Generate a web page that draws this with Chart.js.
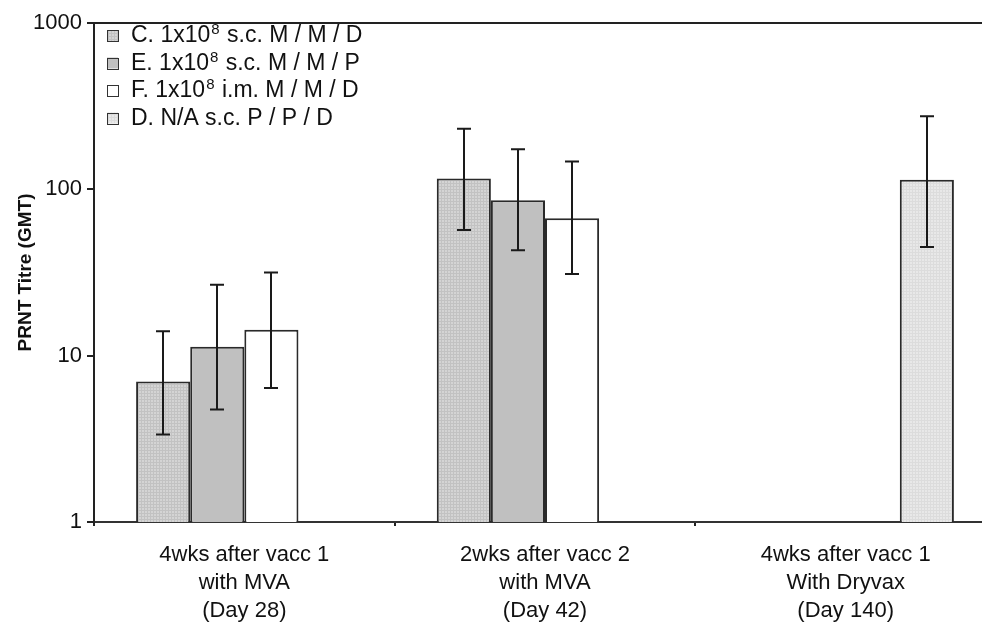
<!DOCTYPE html>
<html>
<head>
<meta charset="utf-8">
<script src="https://cdn.jsdelivr.net/npm/chart.js@4/dist/chart.umd.min.js"></script>
<style>
  html, body { margin: 0; padding: 0; background: #fff; overflow: hidden; }
  #wrap { width: 1000px; height: 628px; position: relative; }
</style>
</head>
<body>
<div id="wrap"><canvas id="titreChart"></canvas></div>
<script>
// categories (multi-line x labels)
const categories = [
    ['4wks after vacc 1', 'with MVA', '(Day 28)'],
    ['2wks after vacc 2', 'with MVA', '(Day 42)'],
    ['4wks after vacc 1', 'With Dryvax', '(Day 140)']
];

// series names ("⁸" is drawn as a superscript)
const seriesNames = [
    'C. 1x10⁸ s.c. M / M / D',
    'E. 1x10⁸ s.c. M / M / P',
    'F. 1x10⁸ i.m. M / M / D',
    'D. N/A s.c. P / P / D'
];

// GMT values
const valuesC = [7.0, 116, null];
const valuesE = [11.3, 86, null];
const valuesF = [14.3, 67, null];
const valuesD = [null, null, 114];

// error bar lower / upper limits
const lowC = [3.36, 57, null];
const highC = [14.0, 231, null];
const lowE = [4.75, 43, null];
const highE = [26.7, 174, null];
const lowF = [6.4, 31, null];
const highF = [31.6, 147, null];
const lowD = [null, null, 45];
const highD = [null, null, 275];

const yTicks = [1, 10, 100, 1000];

function makePattern(base, line) {
    const c = document.createElement('canvas');
    c.width = 3;
    c.height = 3;
    const g = c.getContext('2d');
    g.fillStyle = base;
    g.fillRect(0, 0, 3, 3);
    g.fillStyle = line;
    g.fillRect(0, 0, 3, 1);
    g.fillRect(0, 0, 1, 3);
    return g.createPattern(c, 'repeat');
}

const ctx = document.getElementById('titreChart').getContext('2d');
const fillC = makePattern('#d4d4d4', '#c2c2c2');
const fillD = makePattern('#e8e8e8', '#dcdcdc');
const fills = [fillC, '#c0c0c0', '#ffffff', fillD];
const lows = [lowC, lowE, lowF, lowD];
const highs = [highC, highE, highF, highD];

const errorBars = {
    id: 'errorBars',
    afterDatasetsDraw(chart) {
        const c = chart.ctx;
        const y = chart.scales.y;
        c.save();
        c.strokeStyle = '#1a1a1a';
        c.lineWidth = 2;
        chart.data.datasets.forEach((ds, i) => {
            const meta = chart.getDatasetMeta(i);
            meta.data.forEach((bar, j) => {
                if (lows[i][j] == null) return;
                const x = Math.round(bar.x);
                const y1 = y.getPixelForValue(lows[i][j]);
                const y2 = y.getPixelForValue(highs[i][j]);
                c.beginPath();
                c.moveTo(x, y1);
                c.lineTo(x, y2);
                c.moveTo(x - 7, y1);
                c.lineTo(x + 7, y1);
                c.moveTo(x - 7, y2);
                c.lineTo(x + 7, y2);
                c.stroke();
            });
        });
        c.restore();
    }
};

const frameAndLegend = {
    id: 'frameAndLegend',
    afterDraw(chart) {
        const c = chart.ctx;
        const a = chart.chartArea;
        c.save();
        // top frame line
        c.strokeStyle = '#222';
        c.lineWidth = 2;
        c.beginPath();
        c.moveTo(a.left, a.top);
        c.lineTo(a.right, a.top);
        c.stroke();

        // legend inside plot
        const font = '23px "Liberation Sans", Arial, sans-serif';
        const supFont = '15px "Liberation Sans", Arial, sans-serif';
        c.textBaseline = 'middle';
        c.textAlign = 'left';
        seriesNames.forEach((name, i) => {
            const cy = a.top + 12 + i * 27.5;
            const bx = a.left + 13;
            c.fillStyle = fills[i];
            c.fillRect(bx, cy - 5, 11, 11);
            c.strokeStyle = '#333';
            c.lineWidth = 1;
            c.strokeRect(bx + 0.5, Math.round(cy - 5) + 0.5, 11, 11);
            c.fillStyle = '#111';
            let tx = a.left + 37;
            const parts = name.split('⁸');
            parts.forEach((p, k) => {
                c.font = font;
                c.fillText(p, tx, cy + 1);
                tx += c.measureText(p).width;
                if (k < parts.length - 1) {
                    c.font = supFont;
                    c.fillText('8', tx + 1, cy - 5);
                    tx += c.measureText('8').width + 2;
                }
            });
        });
        c.restore();
    }
};

new Chart(ctx, {
    type: 'bar',
    data: {
        labels: categories,
        datasets: [valuesC, valuesE, valuesF, valuesD].map((vals, i) => ({
            label: seriesNames[i],
            data: vals,
            backgroundColor: fills[i],
            borderColor: '#2a2a2a',
            borderWidth: 2,
            borderSkipped: 'bottom',
            barPercentage: 1,
            categoryPercentage: 0.72
        }))
    },
    options: {
        responsive: true,
        maintainAspectRatio: false,
        animation: false,
        layout: { padding: { top: 23, right: 4, left: 0, bottom: 0 } },
        plugins: {
            legend: { display: false },
            tooltip: { enabled: false }
        },
        scales: {
            x: {
                grid: {
                    offset: true,
                    drawOnChartArea: false,
                    tickLength: 4,
                    color: '#222',
                    lineWidth: 2
                },
                border: { color: '#333', width: 2 },
                ticks: {
                    color: '#111',
                    padding: 15,
                    maxRotation: 0,
                    font: { family: '"Liberation Sans", Arial, sans-serif', size: 22, lineHeight: 1.27 }
                },
                afterFit(scale) { scale.height = 106; }
            },
            y: {
                type: 'logarithmic',
                min: 1,
                max: 1000,
                afterBuildTicks(scale) {
                    scale.ticks = yTicks.map(v => ({ value: v }));
                },
                grid: {
                    drawOnChartArea: false,
                    tickLength: 7,
                    color: '#222',
                    lineWidth: 2
                },
                border: { color: '#222', width: 2 },
                ticks: {
                    color: '#111',
                    padding: 5,
                    font: { family: '"Liberation Sans", Arial, sans-serif', size: 22 },
                    callback: function (value) {
                        return yTicks.includes(value) ? String(value) : '';
                    }
                },
                title: {
                    display: true,
                    text: 'PRNT Titre (GMT)',
                    color: '#111',
                    padding: { top: 14, bottom: 0 },
                    font: { family: '"Liberation Sans", Arial, sans-serif', size: 19, weight: 'bold' }
                },
                afterFit(scale) { scale.width = 94; }
            }
        }
    },
    plugins: [errorBars, frameAndLegend]
});
</script>
</body>
</html>
